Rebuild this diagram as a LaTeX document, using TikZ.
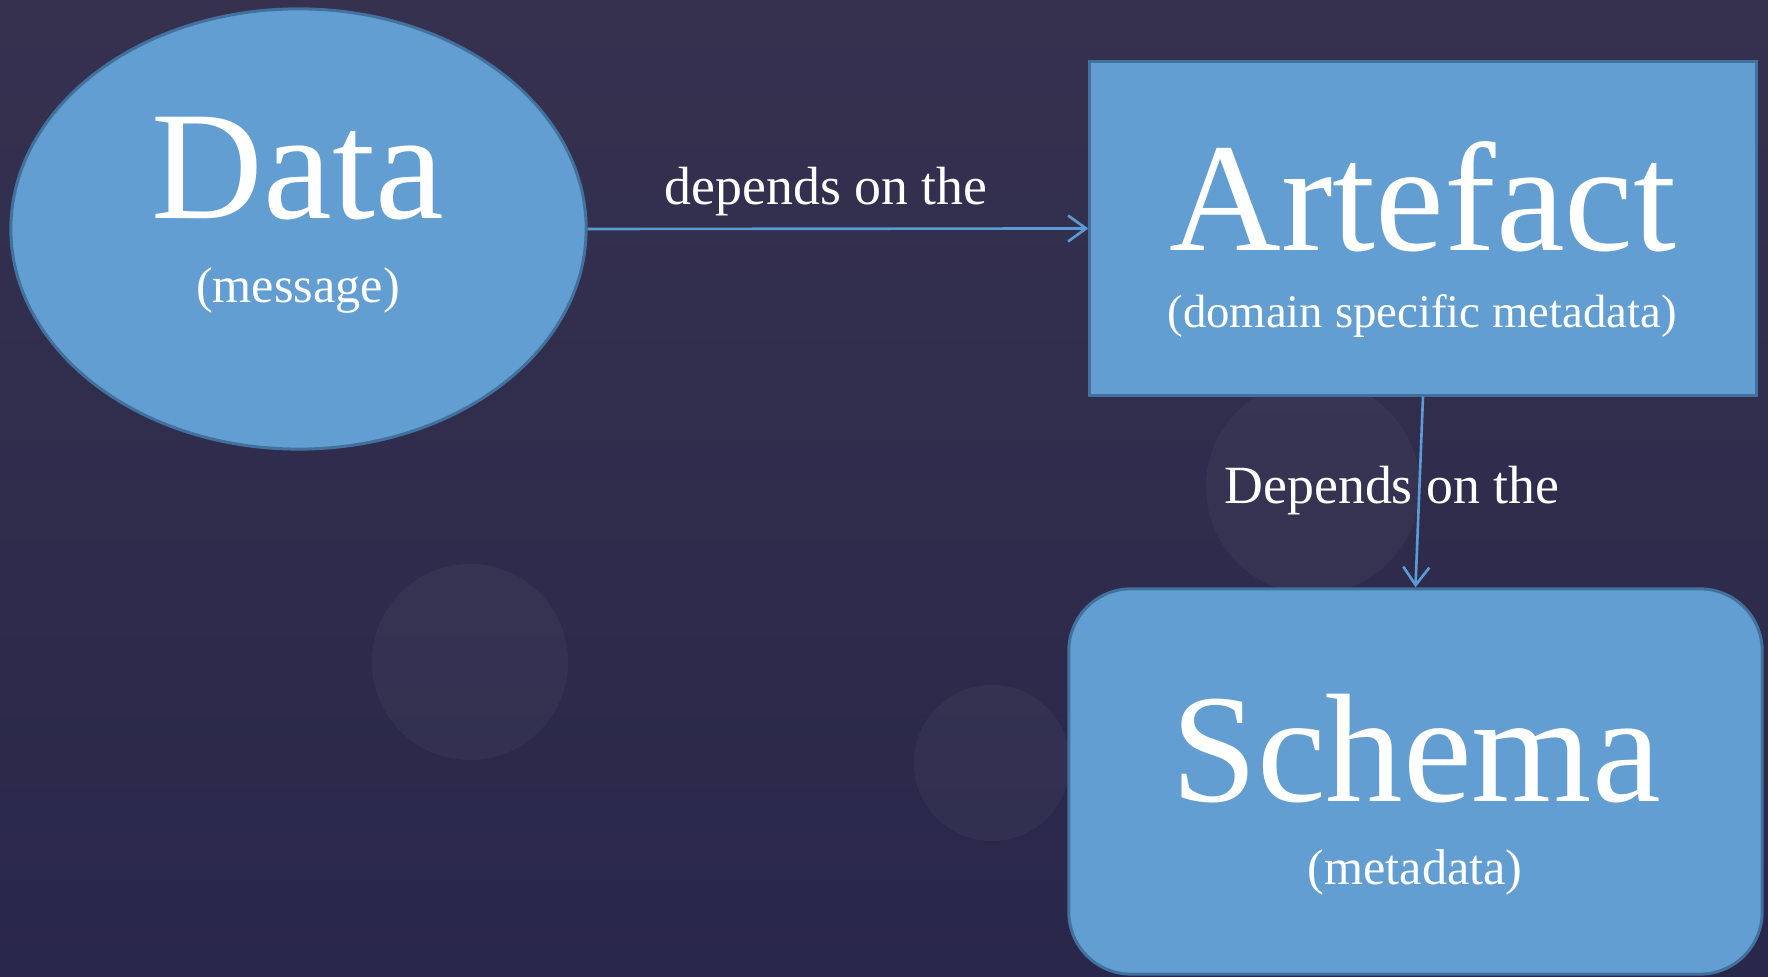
\documentclass[tikz,border=0pt]{standalone}
\usepackage{fontspec}
\setmainfont{Liberation Serif}
\usepackage{tikz}
\usetikzlibrary{arrows.meta, shapes.geometric, positioning, calc}
\usepackage{xcolor}

\definecolor{bgtop}{HTML}{36314F}
\definecolor{bgbot}{HTML}{29274A}
\definecolor{boxfill}{HTML}{629ED1}
\definecolor{boxline}{HTML}{41719C}
\definecolor{linkcol}{HTML}{5B9BD5}

\begin{document}
\begin{tikzpicture}[x=0.01cm, y=-0.01cm,
        >={Straight Barb[length=1.8mm, width=2.6mm]},
        box/.style={fill=boxfill, draw=boxline, line width=0.85pt, inner sep=0pt},
        bigtxt/.style={anchor=base, inner sep=0pt, text=white, font=\fontsize{44}{50}\selectfont},
        smalltxt/.style={anchor=base, inner sep=0pt, text=white, font=\fontsize{14.3}{17}\selectfont},
        linktxt/.style={anchor=base, inner sep=0pt, text=white, font=\fontsize{15.3}{18}\selectfont},
        link/.style={->, draw=linkcol, line width=0.75pt}]

        % background
        \shade[top color=bgtop, bottom color=bgbot] (0, 0) rectangle (1768, 977);
        \fill[white, opacity=0.035] (470, 662) circle[radius=0.98cm];
        \fill[white, opacity=0.035] (992, 763) circle[radius=0.78cm];
        \fill[white, opacity=0.035] (1313, 487) circle[radius=1.07cm];

        % shapes
        \node[box, ellipse, minimum width=5.75cm, minimum height=4.4cm] (data) at (298.5, 229) {};
        \node[box, rectangle, minimum width=6.66cm, minimum height=3.33cm] (artefact) at (1423, 228.5) {};
        \node[box, rectangle, rounded corners=0.62cm, minimum width=6.93cm, minimum height=3.85cm] (schema) at (1415.5, 781.5) {};

        % texts
        \node[bigtxt] (datatitle) at (298, 219) {Data};
        \node[smalltxt] (datasub) at (298, 303) {(message)};
        \node[bigtxt] (artefacttitle) at (1423, 251) {Artefact};
        \node[smalltxt, font=\fontsize{13.3}{16}\selectfont] (artefactsub) at (1422, 328) {(domain specific metadata)};
        \node[bigtxt] (schematitle) at (1416, 802) {Schema};
        \node[smalltxt] (schemasub) at (1415, 885) {(metadata)};

        % links
        \draw[link] (data.east) -- (artefact.west);
        \draw[link] (artefact.south) -- (schema.north);
        \node[linktxt] (dep1) at (826, 205) {depends on the};
        \node[linktxt] (dep2) at (1392, 504) {Depends on the};

\end{tikzpicture}
\end{document}
